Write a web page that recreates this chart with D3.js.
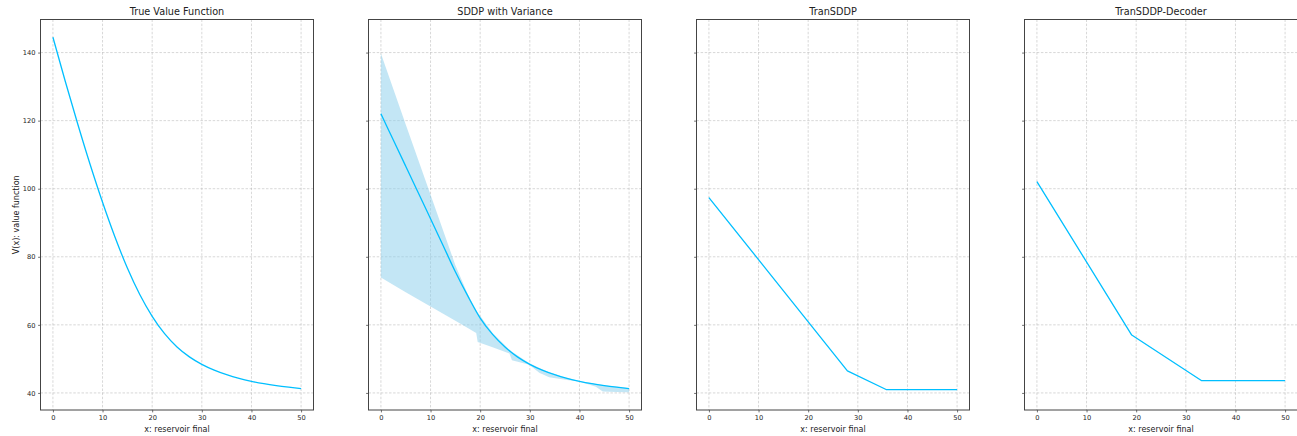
<!DOCTYPE html>
<html>
<head>
<meta charset="utf-8">
<script src="https://cdn.jsdelivr.net/npm/d3@7"></script>
<style>
  html, body { margin: 0; padding: 0; background: #fff; }
  svg { display: block; font-family: "DejaVu Sans", sans-serif; }
</style>
</head>
<body>
<svg id="chart" width="1297" height="436"></svg>
<script>
// ---------- data ----------
const panelTitles = ["True Value Function", "SDDP with Variance", "TranSDDP", "TranSDDP-Decoder"];
const xTicks = [0, 10, 20, 30, 40, 50];
const yTicks = [40, 60, 80, 100, 120, 140];

// True value function
const trueX = [0, 2.5, 5, 7.5, 10, 12.5, 15, 17.5, 20, 22.5, 25, 27.5, 30, 32.5, 35, 37.5, 40, 42.5, 45, 47.5, 50];
const trueV = [144.5, 131.5, 119.0, 107.1, 96.0, 85.8, 76.7, 68.9, 62.5, 57.4, 53.5, 50.6, 48.4, 46.7, 45.35, 44.26, 43.4, 42.71, 42.15, 41.69, 41.29];

// SDDP mean
const sddpX = [0, 2.5, 5, 7.5, 10, 12.5, 15, 17.5, 20, 22.5, 25, 27.5, 30, 32.5, 35, 37.5, 40, 42.5, 45, 47.5, 50];
const sddpMean = [122, 114.3, 106.6, 98.9, 91.2, 83.4, 75.6, 68.5, 62.0, 57.2, 53.5, 50.6, 48.4, 46.7, 45.35, 44.26, 43.4, 42.71, 42.15, 41.69, 41.29];

// SDDP variance band
const bandX     = [0, 5, 10, 15, 17.5, 19.2, 19.5, 22.5, 25.9, 26.4, 29.9, 31.9, 33.9, 37.5, 40, 43.3, 44.7, 47.5, 50];
const bandLower = [73.9, 69.6, 65.4, 61.2, 59.1, 57.6, 55.0, 53.4, 51.6, 49.6, 48.3, 45.9, 44.6, 43.8, 43.35, 41.8, 40.4, 40.3, 40.2];
const bandUpper = [139.7, 118.9, 98.2, 77.5, 69.0, 64.4, 63.6, 57.6, 52.7, 52.1, 48.7, 47.3, 46.1, 44.4, 43.5, 42.6, 42.3, 41.8, 41.35];

// TranSDDP
const tranX = [0, 27.9, 35.7, 50];
const tranV = [97.4, 46.5, 41.0, 41.0];

// TranSDDP-Decoder
const decX = [0, 19.1, 33.2, 50];
const decV = [102.1, 57.0, 43.6, 43.6];

// ---------- layout ----------
const svg = d3.select("#chart");
svg.append("rect").attr("width", 1297).attr("height", 436).attr("fill", "#fff");

const panelLeft0 = 40.5, panelStep = 328, panelW = 273;
const panelTop = 19.5, panelH = 390.5;
const lineColor = "#00bfff";

const allVals = trueV.concat(sddpMean, bandLower, bandUpper, tranV, decV);
const [vMin, vMax] = d3.extent(allVals);
const vPad = (vMax - vMin) * 0.05;

const x = d3.scaleLinear().domain([-2.5, 52.5]).range([0, panelW]);
const y = d3.scaleLinear().domain([vMin - vPad, vMax + vPad]).range([panelH, 0]);

const smoothLine = d3.line().x(d => x(d[0])).y(d => y(d[1])).curve(d3.curveMonotoneX);
const straightLine = d3.line().x(d => x(d[0])).y(d => y(d[1]));
const areaGen = d3.area().x(d => x(d[0])).y0(d => y(d[1])).y1(d => y(d[2]));

const series = [
  { line: trueX.map((v, i) => [v, trueV[i]]), gen: smoothLine },
  { line: sddpX.map((v, i) => [v, sddpMean[i]]), gen: smoothLine, band: bandX.map((v, i) => [v, bandLower[i], bandUpper[i]]) },
  { line: tranX.map((v, i) => [v, tranV[i]]), gen: straightLine },
  { line: decX.map((v, i) => [v, decV[i]]), gen: straightLine }
];

series.forEach((s, pi) => {
  const g = svg.append("g").attr("transform", `translate(${panelLeft0 + pi * panelStep},${panelTop})`);

  // grid
  g.append("g").selectAll("line").data(xTicks).join("line")
    .attr("x1", d => x(d)).attr("x2", d => x(d)).attr("y1", 0).attr("y2", panelH)
    .attr("stroke", "#b0b0b0").attr("stroke-opacity", 0.7).attr("stroke-width", 0.7)
    .attr("stroke-dasharray", "2.5,1.6");
  g.append("g").selectAll("line").data(yTicks).join("line")
    .attr("y1", d => y(d)).attr("y2", d => y(d)).attr("x1", 0).attr("x2", panelW)
    .attr("stroke", "#b0b0b0").attr("stroke-opacity", 0.7).attr("stroke-width", 0.7)
    .attr("stroke-dasharray", "2.5,1.6");

  // band
  if (s.band) {
    g.append("path").datum(s.band).attr("d", areaGen)
      .attr("fill", "#87ceeb").attr("fill-opacity", 0.5).attr("stroke", "none");
  }
  // line
  g.append("path").datum(s.line).attr("d", s.gen)
    .attr("fill", "none").attr("stroke", lineColor).attr("stroke-width", 1.3)
    .attr("stroke-linejoin", "round");

  // axes
  const xAxis = d3.axisBottom(x).tickValues(xTicks).tickSize(2.4).tickPadding(2.6);
  const gx = g.append("g").attr("transform", `translate(0,${panelH})`).call(xAxis);
  const yAxis = d3.axisLeft(y).tickValues(yTicks).tickSize(2.4).tickPadding(2.6);
  if (pi > 0) yAxis.tickFormat(() => "");
  const gy = g.append("g").call(yAxis);
  [gx, gy].forEach(a => {
    a.select(".domain").remove();
    a.selectAll(".tick line").attr("stroke", "#333").attr("stroke-width", 0.7);
    a.selectAll(".tick text").attr("fill", "#222").style("font-size", "6.7px")
      .style("font-family", "DejaVu Sans, sans-serif");
  });

  // frame
  g.append("rect").attr("x", 0).attr("y", 0).attr("width", panelW).attr("height", panelH)
    .attr("fill", "none").attr("stroke", "#444").attr("stroke-width", 1);

  // title
  g.append("text").attr("x", panelW / 2).attr("y", -4.2).attr("text-anchor", "middle")
    .style("font-size", "9.7px").attr("fill", "#222").text(panelTitles[pi]);

  // x label
  g.append("text").attr("x", panelW / 2).attr("y", panelH + 21.8).attr("text-anchor", "middle")
    .style("font-size", "8px").attr("fill", "#222").text("x: reservoir final");

  if (pi === 0) {
    g.append("text")
      .attr("transform", `translate(${-22},${panelH / 2}) rotate(-90)`)
      .attr("text-anchor", "middle")
      .style("font-size", "8px").attr("fill", "#222").text("V(x): value function");
  }
});
</script>
</body>
</html>
